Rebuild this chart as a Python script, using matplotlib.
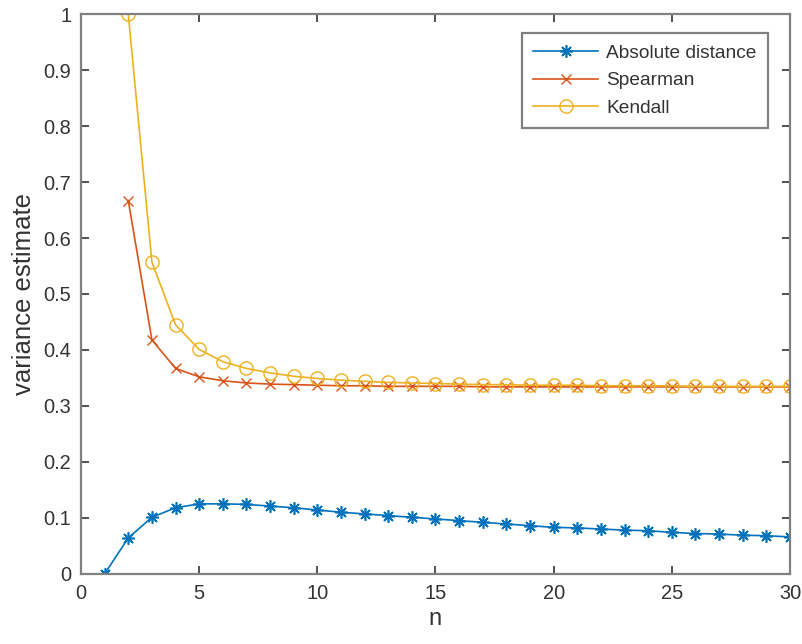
import numpy as np
import matplotlib
matplotlib.use('Agg')
import matplotlib.pyplot as plt

plt.rcParams['font.family'] = ['Liberation Sans', 'DejaVu Sans']

# values
n_abs = list(range(1, 31))
abs_dist = [0, 0.064, 0.101, 0.118, 0.125, 0.125, 0.124, 0.121, 0.118, 0.114,
            0.110, 0.107, 0.104, 0.101, 0.098, 0.095, 0.092, 0.089, 0.086, 0.083,
            0.082, 0.080, 0.078, 0.077, 0.074, 0.072, 0.071, 0.069, 0.068, 0.066]

n_rank = list(range(2, 31))
spearman = [0.667, 0.418, 0.367, 0.352, 0.345, 0.341, 0.339, 0.338, 0.337, 0.336,
            0.336, 0.335, 0.335, 0.335, 0.335, 0.334, 0.334, 0.334, 0.334, 0.334,
            0.334, 0.334, 0.334, 0.334, 0.334, 0.334, 0.334, 0.334, 0.334]
kendall = [1.0, 0.557, 0.445, 0.401, 0.379, 0.367, 0.359, 0.353, 0.349, 0.346,
           0.344, 0.342, 0.341, 0.340, 0.339, 0.338, 0.338, 0.337, 0.337, 0.337,
           0.336, 0.336, 0.336, 0.336, 0.335, 0.335, 0.335, 0.335, 0.335]

x_ticks = [0, 5, 10, 15, 20, 25, 30]
y_ticks = [0, 0.1, 0.2, 0.3, 0.4, 0.5, 0.6, 0.7, 0.8, 0.9, 1]
y_ticklabels = ['0', '0.1', '0.2', '0.3', '0.4', '0.5', '0.6', '0.7', '0.8', '0.9', '1']

# MATLAB default colours
c_blue = (0, 0.447, 0.741)
c_red = (0.85, 0.325, 0.098)
c_yellow = (0.929, 0.694, 0.125)
axis_gray = '#808080'
text_gray = '#333333'

fig = plt.figure(figsize=(8.02, 6.44), dpi=100)
ax = fig.add_axes([0.101, 0.109, 0.884, 0.869])

ax.plot(n_abs, abs_dist, color=c_blue, lw=1.2, marker=(8, 2, 0), ms=9,
        mew=1.2, label='Absolute distance')
ax.plot(n_rank, spearman, color=c_red, lw=1.2, marker='x', ms=7,
        mew=1.0, label='Spearman')
ax.plot(n_rank, kendall, color=c_yellow, lw=1.2, marker='o', ms=9.5,
        mew=1.0, mfc='none', label='Kendall')

ax.set_xlim(0, 30)
ax.set_ylim(0, 1)
ax.set_xticks(x_ticks)
ax.set_yticks(y_ticks)
ax.set_yticklabels(y_ticklabels)

for s in ax.spines.values():
    s.set_color(axis_gray)
    s.set_linewidth(1.6)
ax.tick_params(direction='in', top=True, right=True, length=6, width=1.2,
               color=text_gray, labelcolor=text_gray, labelsize=14.4, pad=7)

ax.set_xlabel('n', fontsize=17, color=text_gray, labelpad=4)
ax.set_ylabel('variance estimate', fontsize=18.5, color=text_gray, labelpad=5)

leg = ax.legend(loc='upper right', bbox_to_anchor=(0.969, 0.966), fontsize=13.8,
                handlelength=3.4, fancybox=False, framealpha=1,
                edgecolor=axis_gray, borderpad=0.6, labelspacing=0.52,
                handletextpad=0.4, borderaxespad=0)
leg.get_frame().set_linewidth(1.6)
for t in leg.get_texts():
    t.set_color(text_gray)

fig.savefig('out.png', dpi=100)
